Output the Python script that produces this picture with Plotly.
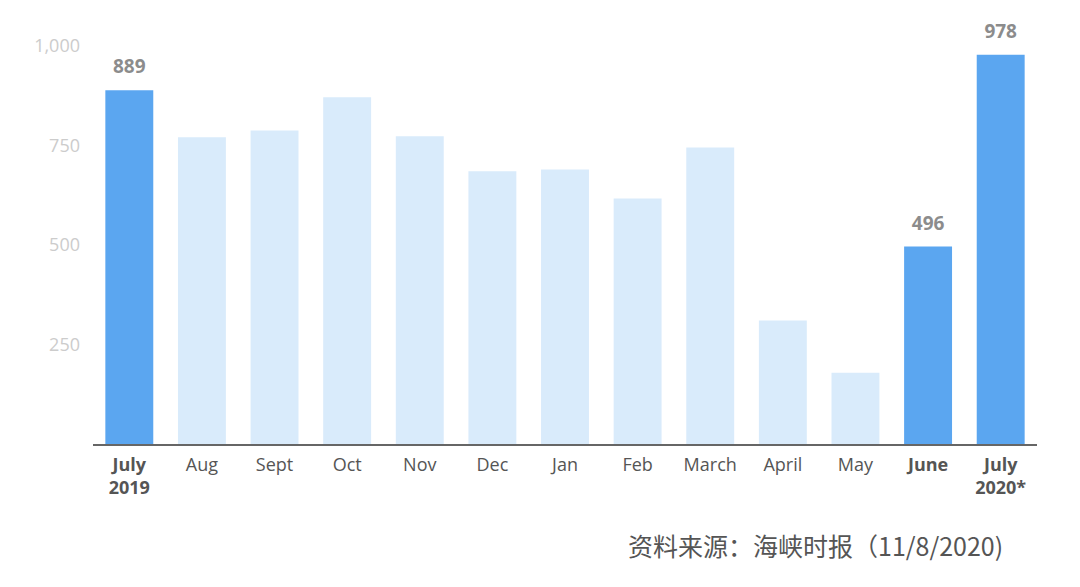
import plotly.graph_objects as go

categories = ["July<br>2019", "Aug", "Sept", "Oct", "Nov", "Dec", "Jan", "Feb",
              "March", "April", "May", "June", "July<br>2020*"]
tick_text = ["<b>July<br>2019</b>", "Aug", "Sept", "Oct", "Nov", "Dec", "Jan", "Feb",
             "March", "April", "May", "<b>June</b>", "<b>July<br>2020*</b>"]
values = [889, 771, 788, 871, 773, 685, 690, 617, 745, 310, 179, 496, 978]
highlight = [True, False, False, False, False, False, False, False, False, False, False, True, True]

dark = "#5ba6f0"
light = "#d9ebfb"
colors = [dark if h else light for h in highlight]

xs = list(range(len(categories)))
lab_x = [x for x, h in zip(xs, highlight) if h]
lab_y = [v for v, h in zip(values, highlight) if h]
lab_t = [f"<b>{v}</b>" for v in lab_y]

fig = go.Figure()
fig.add_trace(go.Bar(
    x=xs,
    y=values,
    marker=dict(color=colors, line=dict(width=0)),
    hoverinfo="skip",
))
fig.add_trace(go.Scatter(
    x=lab_x, y=lab_y,
    mode="markers+text",
    marker=dict(size=18, color="rgba(0,0,0,0)"),
    text=lab_t,
    textposition="top center",
    textfont=dict(family="Open Sans, sans-serif", size=19, color="#8c8c8c"),
    cliponaxis=False,
    hoverinfo="skip",
))

fig.update_layout(
    width=1080, height=587,
    margin=dict(l=85, r=51, t=38, b=151),
    paper_bgcolor="white", plot_bgcolor="white",
    bargap=0.34,
    showlegend=False,
    xaxis=dict(
        range=[-0.5, 12.5],
        tickmode="array",
        tickvals=xs,
        ticktext=tick_text,
        showgrid=False,
        showline=True, linecolor="#666666", linewidth=2,
        ticks="",
        ticklabelstandoff=3,
        tickfont=dict(family="Open Sans, sans-serif", size=18, color="#555555"),
        fixedrange=True,
    ),
    yaxis=dict(
        range=[0, 1000],
        tickvals=[250, 500, 750, 1000],
        ticktext=["250", "500", "750", "1,000"],
        showgrid=False, zeroline=False, showline=False,
        ticks="",
        ticklabelstandoff=12,
        tickfont=dict(family="Open Sans, sans-serif", size=18, color="#cccccc"),
        fixedrange=True,
    ),
    annotations=[dict(
        text="资料来源：海峡时报（11/8/2020)",
        xref="paper", yref="paper",
        x=0.966, y=-0.254, xanchor="right", yanchor="middle",
        showarrow=False,
        font=dict(family="Noto Sans CJK SC", size=25, color="#555555"),
    )],
)

fig.write_html("out.html")
